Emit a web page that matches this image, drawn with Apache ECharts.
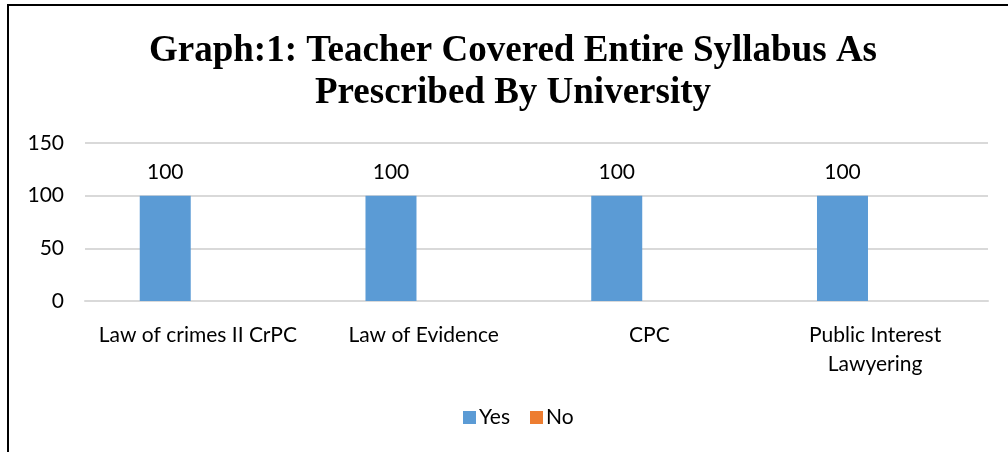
<!DOCTYPE html>
<html>
<head>
<meta charset="utf-8">
<script src="https://cdn.jsdelivr.net/npm/echarts@6/dist/echarts.min.js"></script>
<style>html,body{margin:0;padding:0;background:#fff;}#c{width:1008px;height:452px;}</style>
</head>
<body>
<div id="c"></div>
<script>
const categories = ['Law of crimes II CrPC', 'Law of Evidence', 'CPC', 'Public Interest\nLawyering'];
const yesValues = [100, 100, 100, 100];
const noValues = [0, 0, 0, 0];
const seriesNames = ['Yes', 'No'];
const yTicks = { min: 0, max: 150, interval: 50 };

const chart = echarts.init(document.getElementById('c'), null, { renderer: 'canvas' });
const font = 'Lato';
const fs = 21;
chart.setOption({
  animation: false,
  backgroundColor: '#fff',
  title: {
    text: 'Graph:1: Teacher Covered Entire Syllabus As\nPrescribed By University',
    left: 508, top: 25, textAlign: 'center',
    textStyle: { fontFamily: 'Liberation Serif', fontWeight: 'bold', fontSize: 37, lineHeight: 42, color: '#000' }
  },
  legend: {
    data: seriesNames, left: 458, top: 402, itemWidth: 13, itemHeight: 13, itemGap: 20,
    icon: 'rect',
    textStyle: { fontFamily: font, fontSize: fs, color: '#000', padding: [0,0,0,-2] }
  },
  grid: { left: 85, right: 20, top: 143, bottom: 151 },
  xAxis: {
    type: 'category', data: categories,
    axisLine: { lineStyle: { color: '#d9d9d9', width: 2 } },
    axisTick: { show: false },
    axisLabel: { fontFamily: font, fontSize: fs, color: '#000', margin: 20, lineHeight: 29, interval: 0 }
  },
  yAxis: {
    type: 'value', min: yTicks.min, max: yTicks.max, interval: yTicks.interval,
    axisLine: { show: false }, axisTick: { show: false },
    splitLine: { lineStyle: { color: '#d9d9d9', width: 2 } },
    axisLabel: { fontFamily: font, fontSize: fs, color: '#000', margin: 21 }
  },
  series: [
    { name: seriesNames[0], type: 'bar', data: yesValues, barWidth: 51, barGap: '28%',
      itemStyle: { color: '#5b9bd5' },
      label: { show: true, position: 'top', distance: 13, fontFamily: font, fontSize: fs, color: '#000' } },
    { name: seriesNames[1], type: 'bar', data: noValues, barWidth: 51,
      itemStyle: { color: '#ed7d31' } }
  ],
  graphic: [{
    type: 'polyline', silent: true,
    shape: { points: [[8, 452], [8, 5], [1008, 5]] },
    style: { stroke: '#000', lineWidth: 2, fill: null }
  }]
});
</script>
</body>
</html>
